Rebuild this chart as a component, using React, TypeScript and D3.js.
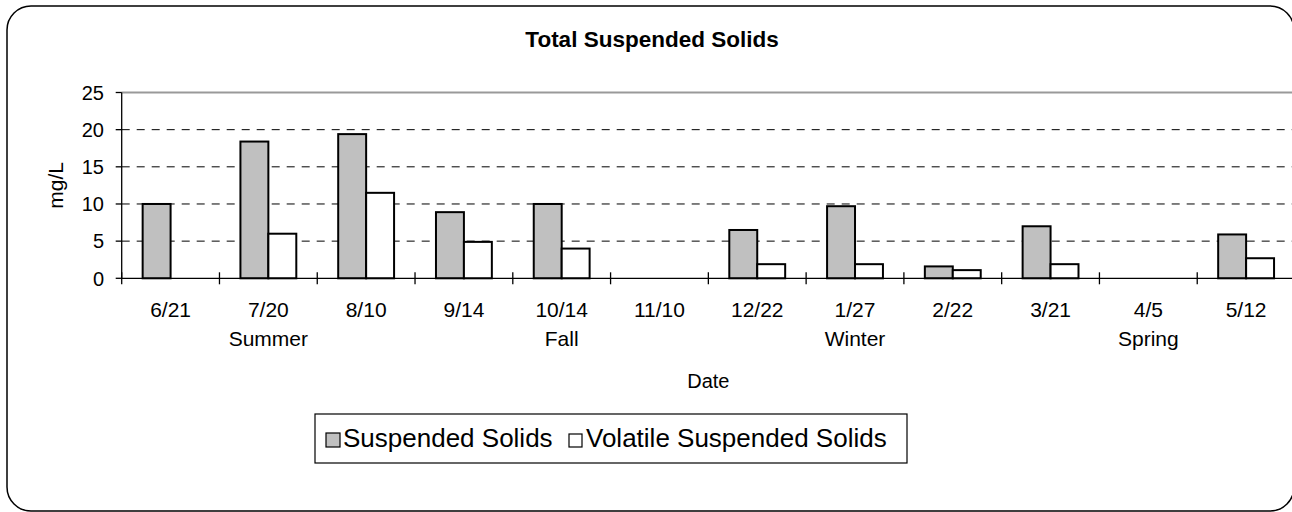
import React from "react";
import * as d3 from "d3";

const categories = ["6/21", "7/20", "8/10", "9/14", "10/14", "11/10", "12/22", "1/27", "2/22", "3/21", "4/5", "5/12"];
const suspendedSolids: (number | null)[] = [10, 18.4, 19.4, 8.9, 10, null, 6.5, 9.7, 1.6, 7.0, null, 5.9];
const volatileSuspendedSolids: (number | null)[] = [null, 6.0, 11.5, 4.9, 4.0, null, 1.9, 1.9, 1.1, 1.9, null, 2.7];
const seasons = ["Summer", "Fall", "Winter", "Spring"];
const seasonStart = [0, 3, 6, 9];
const seasonEnd = [2, 5, 8, 11];
const yTicks = [0, 5, 10, 15, 20, 25];
const seriesNames = ["Suspended Solids", "Volatile Suspended Solids"];
const seriesColors = ["#c0c0c0", "#ffffff"];

const W = 1292;
const H = 512;
const FONT = "'Liberation Sans', Arial, sans-serif";

export default function App() {
  const left = 121.7;
  const right = 1295;
  const top = 92.5;
  const bottom = 278.3;

  const x = d3.scaleBand<string>().domain(categories).range([left, right]).paddingInner(0).paddingOuter(0);
  const y = d3.scaleLinear().domain([0, 25]).range([bottom, top]);
  const bw = x.bandwidth();
  const barW = bw / 3.5;
  const gap = barW * 0.75;
  const series = [suspendedSolids, volatileSuspendedSolids];

  const tickXs = categories.map((c) => x(c) as number).concat([right]);

  return (
    <svg width={W} height={H} style={{ position: "absolute", left: 0, top: 0, display: "block" }} fontFamily={FONT}>
      <rect x={0} y={0} width={W} height={H} fill="#fff" />
      <rect x={7} y={6} width={1287} height={505} rx={24} ry={24} fill="#fff" stroke="#000" strokeWidth={1.5} />

      <text x={652} y={47} textAnchor="middle" fontSize={22.5} fontWeight="bold">Total Suspended Solids</text>

      {/* gridlines */}
      {yTicks.filter((t) => t > 0 && t < 25).map((t) => (
        <line key={"g" + t} x1={left} x2={right} y1={y(t)} y2={y(t)} stroke="#000" strokeWidth={1} strokeDasharray="8,7" />
      ))}
      <line x1={left} x2={right} y1={y(25)} y2={y(25)} stroke="#999" strokeWidth={2} />

      {/* bars */}
      {series.map((s, si) =>
        s.map((v, i) =>
          v == null ? null : (
            <rect
              key={"b" + si + "-" + i}
              x={(x(categories[i]) as number) + gap + si * barW}
              y={y(v)}
              width={barW}
              height={y(0) - y(v)}
              fill={seriesColors[si]}
              stroke="#000"
              strokeWidth={2}
            />
          )
        )
      )}

      {/* axes */}
      <line x1={left} x2={left} y1={top} y2={bottom} stroke="#000" strokeWidth={1.3} />
      <line x1={left} x2={right} y1={bottom} y2={bottom} stroke="#000" strokeWidth={1.3} />
      {yTicks.map((t) => (
        <g key={"yt" + t}>
          <line x1={left - 6} x2={left} y1={y(t)} y2={y(t)} stroke="#000" strokeWidth={1.3} />
          <text x={104} y={y(t)} dy="0.36em" textAnchor="end" fontSize={20}>{t}</text>
        </g>
      ))}
      {tickXs.map((tx, i) => (
        <line key={"xt" + i} x1={tx} x2={tx} y1={bottom - 6} y2={bottom + 6} stroke="#000" strokeWidth={1.3} />
      ))}
      {categories.map((c) => (
        <text key={"xl" + c} x={(x(c) as number) + bw / 2} y={317} textAnchor="middle" fontSize={21}>{c}</text>
      ))}
      {seasons.map((s, i) => {
        const cx = ((x(categories[seasonStart[i]]) as number) + (x(categories[seasonEnd[i]]) as number) + bw) / 2;
        return (
          <text key={"s" + s} x={cx} y={346} textAnchor="middle" fontSize={21}>{s}</text>
        );
      })}
      <text x={(left + right) / 2} y={388} textAnchor="middle" fontSize={20}>Date</text>
      <text transform={`translate(63,${(top + bottom) / 2}) rotate(-90)`} textAnchor="middle" fontSize={21}>mg/L</text>

      {/* legend */}
      <rect x={315} y={414} width={592} height={49} fill="#fff" stroke="#000" strokeWidth={1.2} />
      <rect x={326} y={433} width={14} height={14} fill={seriesColors[0]} stroke="#000" strokeWidth={1.2} />
      <text x={343} y={447} fontSize={26}>{seriesNames[0]}</text>
      <rect x={569} y={434} width={13} height={13} fill={seriesColors[1]} stroke="#000" strokeWidth={1.2} />
      <text x={586} y={447} fontSize={26}>{seriesNames[1]}</text>
    </svg>
  );
}
